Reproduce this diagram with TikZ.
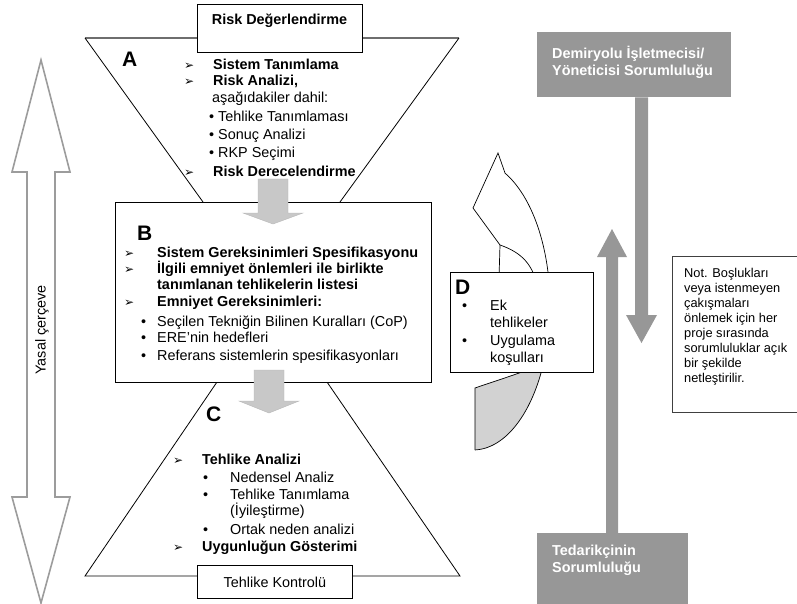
\documentclass[tikz,border=0pt]{standalone}
\usepackage{fontspec}
\setmainfont{Liberation Sans}
\newfontfamily\dejavu{DejaVu Sans}
\definecolor{dgray}{HTML}{979797}
\definecolor{lgray}{HTML}{C8C8C8}
\definecolor{agray}{HTML}{9C9C9C}
\definecolor{cgray}{HTML}{D2D2D2}
\definecolor{tgray}{HTML}{6E6E6E}
\begin{document}
\begin{tikzpicture}[x=1pt,y=-1pt,
  txt/.style={inner sep=0pt,anchor=base west,font=\fontsize{14.4}{16.5}\selectfont},
  btxt/.style={inner sep=0pt,anchor=base west,font=\fontsize{14.4}{16.5}\selectfont\bfseries},
  wtxt/.style={btxt,text=white},
  ntxt/.style={inner sep=0pt,anchor=base west,font=\fontsize{12.8}{15}\selectfont},
  big/.style={inner sep=0pt,anchor=base west,font=\fontsize{21}{24}\selectfont\bfseries},
  arrsym/.style={inner sep=0pt,anchor=base west,font=\dejavu\fontsize{12}{13}\selectfont},
  frame/.style={draw=black,line width=0.9pt,fill=white,inner sep=0pt,anchor=north west},
  hour/.style={draw=black,line width=0.8pt},
  blockarrow/.style={fill=lgray,draw=lgray!92!black,line width=0.4pt},
  resp/.style={fill=dgray,draw=none,inner sep=0pt,anchor=north west},
  curv/.style={draw=black,line width=0.7pt},
]
\useasboundingbox (0,0) rectangle (797,604);

% ---------- legal framework double arrow ----------
\draw[draw=agray,line width=1.6pt,fill=white,line join=miter]
  (41,60) -- (70,172) -- (55,172) -- (55,497) -- (70,497) -- (41,603)
  -- (12,497) -- (27,497) -- (27,172) -- (12,172) -- cycle;
\node[rotate=90,inner sep=0pt,font=\fontsize{14.4}{16.5}\selectfont] (yasal) at (42,330) {Yasal çerçeve};

% ---------- hourglass ----------
\coordinate (atl) at (85,38);
\coordinate (atr) at (459,38);
\coordinate (abl) at (203,202);
\coordinate (abr) at (340,202);
\coordinate (ctl) at (217,382);
\coordinate (ctr) at (327,382);
\coordinate (cbl) at (85,576);
\coordinate (cbr) at (460,576);
\draw[draw=tgray,line width=1.8pt] (atl) -- (atr);
\draw[hour] (atl) -- (abl);
\draw[hour] (atr) -- (abr);
\draw[hour] (ctl) -- (cbl) -- (cbr) -- (ctr);

% ---------- boxes ----------
\node[frame,minimum width=165pt,minimum height=48pt] (rd) at (197,4) {};
\node[btxt,anchor=base] (rdt) at (279.5,25) {Risk Değerlendirme};
\node[frame,minimum width=316pt,minimum height=180pt] (bbox) at (115,202) {};
\node[frame,minimum width=155pt,minimum height=33pt] (tk) at (197,565) {};
\node[inner sep=0pt,font=\fontsize{14.4}{16.5}\selectfont] (tkt) at (tk.center) {Tehlike Kontrolü};

% ---------- block arrows between stages ----------
\draw[blockarrow] (258,179) -- (288,179) -- (288,213) -- (303,213) -- (273,224)
  -- (243,213) -- (258,213) -- cycle;
\draw[blockarrow] (254,370) -- (284,370) -- (284,401) -- (299,401) -- (269,413)
  -- (239,401) -- (254,401) -- cycle;

% ---------- A text ----------
\node[big] (la) at (122,67) {A};
\node[arrsym] (aa1) at (184,70) {➢};
\node[btxt] (a1) at (213,70) {Sistem Tanımlama};
\node[arrsym] (aa2) at (184,86) {➢};
\node[btxt] (a2) at (213,86) {Risk Analizi,};
\node[txt] (a3) at (212,103) {aşağıdakiler dahil:};
\node[txt] (a4) at (209,122) {• Tehlike Tanımlaması};
\node[txt] (a5) at (209,140) {• Sonuç Analizi};
\node[txt] (a6) at (209,158) {• RKP Seçimi};
\node[arrsym] (aa7) at (184,176) {➢};
\node[btxt] (a7) at (213,176) {Risk Derecelendirme};

% ---------- B text ----------
\node[big] (lb) at (137,240) {B};
\node[arrsym] (ba1) at (124,257) {➢};
\node[btxt] (b1) at (157,257) {Sistem Gereksinimleri Spesifikasyonu};
\node[arrsym] (ba2) at (124,273) {➢};
\node[btxt] (b2) at (157,273) {İlgili emniyet önlemleri ile birlikte};
\node[btxt] (b3) at (157,289) {tanımlanan tehlikelerin listesi};
\node[arrsym] (ba4) at (124,306) {➢};
\node[btxt] (b4) at (157,306) {Emniyet Gereksinimleri:};
\node[txt] (bb5) at (141,326) {•};
\node[txt] (b5) at (157,326) {Seçilen Tekniğin Bilinen Kuralları (CoP)};
\node[txt] (bb6) at (141,342) {•};
\node[txt] (b6) at (157,342) {ERE'nin hedefleri};
\node[txt] (bb7) at (141,360) {•};
\node[txt] (b7) at (157,360) {Referans sistemlerin spesifikasyonları};

% ---------- C text ----------
\node[big] (lc) at (206,421) {C};
\node[arrsym] (ca1) at (173,464) {➢};
\node[btxt] (c1) at (202,464) {Tehlike Analizi};
\node[txt] (cb2) at (203,482) {•};
\node[txt] (c2) at (230,482) {Nedensel Analiz};
\node[txt] (cb3) at (203,499) {•};
\node[txt] (c3) at (230,499) {Tehlike Tanımlama};
\node[txt] (c4) at (230,515) {(İyileştirme)};
\node[txt] (cb5) at (203,534) {•};
\node[txt] (c5) at (230,534) {Ortak neden analizi};
\node[arrsym] (ca6) at (173,551) {➢};
\node[btxt] (c6) at (202,551) {Uygunluğun Gösterimi};

% ---------- curved arrow (D loop) ----------
\fill[cgray] (475,388) .. controls (495,381) and (515,375) .. (538,366)
  -- plot[domain=22:88.5,samples=40] ({473+77*cos(\x)},{305+145*sin(\x)}) -- cycle;
\draw[curv] (538,366) .. controls (515,375) and (495,381) .. (475,388) -- (475,450);
\draw[curv] plot[domain=22:88.5,samples=40] ({473+77*cos(\x)},{305+145*sin(\x)});
\draw[curv,fill=white] (498,153) -- (473,208) -- (500,245)
  .. controls (520,252) and (530,262) .. (536,280) -- (546,335)
  -- plot[domain=12:-65.4,samples=50] ({473+77*cos(\x)},{305+145*sin(\x)}) -- cycle;
\draw[curv] (500,245) -- (499,278);

% ---------- D box ----------
\node[frame,minimum width=143pt,minimum height=100pt] (dbox) at (450,272) {};
\node[big] (ld) at (455,294) {D};
\node[txt] (db1) at (462,310) {•};
\node[txt] (d1) at (490,310) {Ek};
\node[txt] (d2) at (490,327) {tehlikeler};
\node[txt] (db3) at (462,345) {•};
\node[txt] (d3) at (490,345) {Uygulama};
\node[txt] (d4) at (490,362) {koşulları};

% ---------- responsibilities ----------
\node[resp,minimum width=194pt,minimum height=65pt] (dem) at (537,32) {};
\node[wtxt] (dem1) at (552,59) {Demiryolu İşletmecisi/};
\node[wtxt] (dem2) at (552,76) {Yöneticisi Sorumluluğu};
\node[resp,minimum width=151pt,minimum height=75pt] (ted) at (537,533) {};
\node[wtxt] (ted1) at (552,555) {Tedarikçinin};
\node[wtxt] (ted2) at (552,572) {Sorumluluğu};

\fill[dgray] (dem.south -| 635,0) -- (dem.south -| 648,0) -- (648,315) -- (657,315)
  -- (641.5,343) -- (626,315) -- (635,315) -- cycle;
\fill[dgray] (ted.north -| 606,0) -- (ted.north -| 618,0) -- (618,257) -- (627,257)
  -- (612,229) -- (597,257) -- (606,257) -- cycle;

% ---------- note ----------
\node[frame,draw=black!75,minimum width=135pt,minimum height=156pt] (note) at (672,256) {};
\node[ntxt] (n1) at (684,277.5) {Not. Boşlukları};
\node[ntxt] (n2) at (684,292.5) {veya istenmeyen};
\node[ntxt] (n3) at (684,307.5) {çakışmaları};
\node[ntxt] (n4) at (684,322.5) {önlemek için her};
\node[ntxt] (n5) at (684,337.5) {proje sırasında};
\node[ntxt] (n6) at (684,352.5) {sorumluluklar açık};
\node[ntxt] (n7) at (684,367.5) {bir şekilde};
\node[ntxt] (n8) at (684,382.5) {netleştirilir.};
\end{tikzpicture}
\end{document}
